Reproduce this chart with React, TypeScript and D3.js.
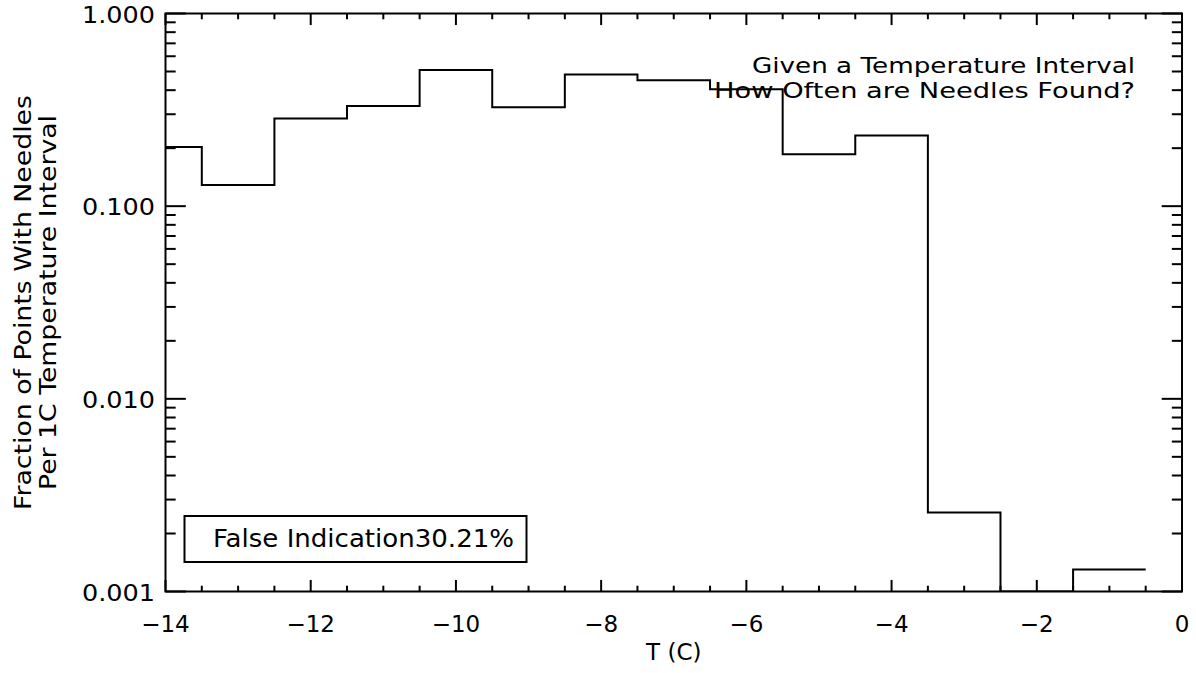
import React from "react";
import * as d3 from "d3";

// ---- data ----
const binCenters = [-14, -13, -12, -11, -10, -9, -8, -7, -6, -5, -4, -3, -2, -1];
const fractions = [0.203, 0.1286, 0.2855, 0.331, 0.509, 0.326, 0.483, 0.451, 0.404, 0.186, 0.233, 0.00257, 0, 0.0013];
const xMajorTicks = [-14, -12, -10, -8, -6, -4, -2, 0];
const xTickLabels = ["\u221214", "\u221212", "\u221210", "\u22128", "\u22126", "\u22124", "\u22122", "0"];
const yMajorTicks = [0.001, 0.01, 0.1, 1];
const yTickLabels = ["0.001", "0.010", "0.100", "1.000"];
const xLabel = "T (C)";
const yLabelLines = ["Fraction of Points With Needles", "Per 1C Temperature Interval"];
const noteLines = ["Given a Temperature Interval", "How Often are Needles Found?"];
const legendText = "False Indication30.21%";

const W = 1196;
const H = 673;
const L = 165.5, R = 1182, T = 13.5, B = 591.5;
const FONT = "'DejaVu Sans', 'Liberation Sans', sans-serif";

export default function App() {
  const x = d3.scaleLinear().domain([-14, 0]).range([L, R]);
  const y = d3.scaleLog().domain([0.001, 1]).range([B, T]);

  const pts: [number, number][] = [];
  binCenters.forEach((c, i) => {
    const v = fractions[i];
    const yy = v > 0 ? y(v) : B;
    pts.push([x(c - 0.5), yy]);
    pts.push([x(c + 0.5), yy]);
  });
  const path = d3.line()(pts) || "";

  const xMinor = d3.range(-14, 0.001, 0.5).filter((v) => !xMajorTicks.includes(v));
  const yMinor: number[] = [];
  for (let e = -3; e < 0; e++) for (let k = 2; k <= 9; k++) yMinor.push(k * Math.pow(10, e));

  const xMajLen = 0.02 * (B - T);
  const yMajLen = 0.02 * (R - L);
  const sw = 2;

  return (
    <svg width={W} height={H} style={{ position: "absolute", left: 0, top: 0, background: "#fff" }} fontFamily={FONT}>
      <defs>
        <clipPath id="plotclip">
          <rect x={L} y={T} width={R - L} height={B - T} />
        </clipPath>
      </defs>
      <rect x={0} y={0} width={W} height={H} fill="#fff" />
      {/* histogram */}
      <path d={path} fill="none" stroke="#000" strokeWidth={sw} clipPath="url(#plotclip)" />
      {/* frame */}
      <rect x={L} y={T} width={R - L} height={B - T} fill="none" stroke="#000" strokeWidth={sw} />
      {/* x ticks */}
      {xMajorTicks.map((v) => (
        <g key={"xM" + v}>
          <line x1={x(v)} x2={x(v)} y1={B} y2={B - xMajLen} stroke="#000" strokeWidth={sw} />
          <line x1={x(v)} x2={x(v)} y1={T} y2={T + xMajLen} stroke="#000" strokeWidth={sw} />
        </g>
      ))}
      {xMinor.map((v) => (
        <g key={"xm" + v}>
          <line x1={x(v)} x2={x(v)} y1={B} y2={B - xMajLen / 2} stroke="#000" strokeWidth={sw} />
          <line x1={x(v)} x2={x(v)} y1={T} y2={T + xMajLen / 2} stroke="#000" strokeWidth={sw} />
        </g>
      ))}
      {/* y ticks */}
      {yMajorTicks.map((v) => (
        <g key={"yM" + v}>
          <line x1={L} x2={L + yMajLen} y1={y(v)} y2={y(v)} stroke="#000" strokeWidth={sw} />
          <line x1={R} x2={R - yMajLen} y1={y(v)} y2={y(v)} stroke="#000" strokeWidth={sw} />
        </g>
      ))}
      {yMinor.map((v) => (
        <g key={"ym" + v}>
          <line x1={L} x2={L + yMajLen / 2} y1={y(v)} y2={y(v)} stroke="#000" strokeWidth={sw} />
          <line x1={R} x2={R - yMajLen / 2} y1={y(v)} y2={y(v)} stroke="#000" strokeWidth={sw} />
        </g>
      ))}
      {/* x tick labels */}
      {xMajorTicks.map((v, i) => (
        <text key={"xl" + v} x={x(v)} y={632} textAnchor="middle" fontSize={23} fill="#000">
          {xTickLabels[i]}
        </text>
      ))}
      {/* y tick labels */}
      {yMajorTicks.map((v, i) => (
        <text key={"yl" + v} x={155} y={y(v) + 9} textAnchor="end" fontSize={23} fill="#000"
          textLength={73} lengthAdjust="spacingAndGlyphs">
          {yTickLabels[i]}
        </text>
      ))}
      {/* axis titles */}
      <text x={(L + R) / 2} y={660} textAnchor="middle" fontSize={23} fill="#000">{xLabel}</text>
      <text transform={`translate(31,${(T + B) / 2}) rotate(-90)`} textAnchor="middle" fontSize={23} fill="#000"
        textLength={415} lengthAdjust="spacingAndGlyphs">{yLabelLines[0]}</text>
      <text transform={`translate(56,${(T + B) / 2}) rotate(-90)`} textAnchor="middle" fontSize={23} fill="#000"
        textLength={375} lengthAdjust="spacingAndGlyphs">{yLabelLines[1]}</text>
      {/* annotation */}
      <text x={1135} y={73} textAnchor="end" fontSize={21} fill="#000" textLength={383} lengthAdjust="spacingAndGlyphs">{noteLines[0]}</text>
      <text x={1135} y={98} textAnchor="end" fontSize={21} fill="#000" textLength={421} lengthAdjust="spacingAndGlyphs">{noteLines[1]}</text>
      {/* legend box */}
      <rect x={184.5} y={516} width={342} height={46} fill="none" stroke="#000" strokeWidth={sw} />
      <text x={213} y={547} fontSize={24} fill="#000" textLength={301} lengthAdjust="spacingAndGlyphs">{legendText}</text>
    </svg>
  );
}
